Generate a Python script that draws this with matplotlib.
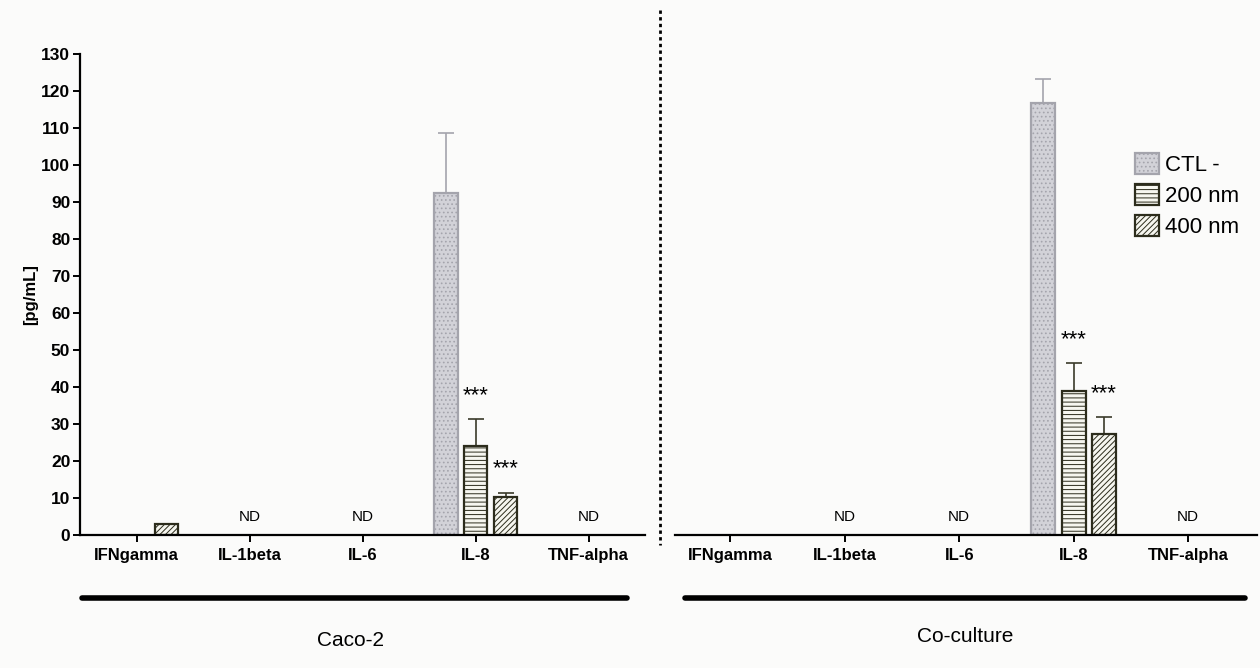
import numpy as np
import matplotlib
matplotlib.use("Agg")
import matplotlib.pyplot as plt
from matplotlib.lines import Line2D

plt.rcParams['font.family'] = ['Liberation Sans', 'DejaVu Sans']
plt.rcParams['hatch.linewidth'] = 0.7

# Data (pg/mL), NaN = no bar drawn
cytokines = ['IFNgamma', 'IL-1beta', 'IL-6', 'IL-8', 'TNF-alpha']
series = ['CTL -', '200 nm', '400 nm']

caco_ctl = [np.nan, np.nan, np.nan, 92.5, np.nan]
caco_200 = [np.nan, np.nan, np.nan, 24.0, np.nan]
caco_400 = [3.0, np.nan, np.nan, 10.3, np.nan]
caco_ctl_err = [0, 0, 0, 16.2, 0]
caco_200_err = [0, 0, 0, 7.3, 0]
caco_400_err = [0, 0, 0, 1.2, 0]

co_ctl = [np.nan, np.nan, np.nan, 116.7, np.nan]
co_200 = [np.nan, np.nan, np.nan, 39.0, np.nan]
co_400 = [np.nan, np.nan, np.nan, 27.2, np.nan]
co_ctl_err = [0, 0, 0, 6.6, 0]
co_200_err = [0, 0, 0, 7.5, 0]
co_400_err = [0, 0, 0, 4.7, 0]

caco_nd = ['IL-1beta', 'IL-6', 'TNF-alpha']
co_nd = ['IL-1beta', 'IL-6', 'TNF-alpha']

styles = [
    dict(facecolor='#d2d2d8', edgecolor='#a4a4ac', hatch='....', ecolor='#a4a4ac'),
    dict(facecolor='#f6f6ef', edgecolor='#2c2c1c', hatch='----', ecolor='#3a3a2a'),
    dict(facecolor='#f6f6ef', edgecolor='#2c2c1c', hatch='//////', ecolor='#3a3a2a'),
]

fig = plt.figure(figsize=(12.6, 6.68), dpi=100)
fig.patch.set_facecolor('#fbfbfa')

ax1 = fig.add_axes([0.0635, 0.199, 0.4485, 0.72])
ax2 = fig.add_axes([0.536, 0.199, 0.4615, 0.72])

x = np.arange(len(cytokines))
width = 0.21
offsets = [-0.265, 0.0, 0.265]


def draw(ax, vals, errs, nd, xlim):
    for i, (v, e, off, st) in enumerate(zip(vals, errs, offsets, styles)):
        v = np.array(v, dtype=float)
        e = np.array(e, dtype=float)
        m = ~np.isnan(v)
        ax.bar(x[m] + off, v[m], width, facecolor=st['facecolor'],
               edgecolor=st['edgecolor'], hatch=st['hatch'], linewidth=1.6,
               label=series[i], zorder=2)
        em = m & (e > 0)
        ax.errorbar(x[em] + off, v[em], yerr=[np.zeros(em.sum()), e[em]],
                    fmt='none', ecolor=st['ecolor'], elinewidth=1.2,
                    capsize=6, capthick=1.2, zorder=1)
    # significance stars for IL-8 treated bars
    i8 = cytokines.index('IL-8')
    for k in (1, 2):
        top = vals[k][i8] + errs[k][i8]
        ax.text(x[i8] + offsets[k], top + 3.5, '***', ha='center', va='bottom',
                fontsize=16)
    for name in nd:
        ax.text(cytokines.index(name), 5.0, 'ND', ha='center', va='center',
                fontsize=11)
    ax.set_xlim(*xlim)
    ax.set_ylim(0, 130)
    ax.set_xticks(x)
    ax.set_xticklabels(cytokines, fontsize=12, fontweight='bold')
    ax.spines['top'].set_visible(False)
    ax.spines['right'].set_visible(False)
    ax.spines['bottom'].set_linewidth(1.6)
    ax.spines['left'].set_linewidth(1.6)
    ax.tick_params(axis='x', length=5, width=1.4, pad=4)
    ax.patch.set_alpha(0)


draw(ax1, [caco_ctl, caco_200, caco_400],
     [caco_ctl_err, caco_200_err, caco_400_err], caco_nd, (-0.5, 4.5))
draw(ax2, [co_ctl, co_200, co_400],
     [co_ctl_err, co_200_err, co_400_err], co_nd, (-0.48, 4.6))

ax1.set_yticks(np.arange(0, 131, 10))
ax1.tick_params(axis='y', length=5, width=1.4, labelsize=12.5, pad=2)
for lab in ax1.get_yticklabels():
    lab.set_fontweight('bold')
ax1.set_ylabel('[pg/mL]', fontsize=12, fontweight='bold', labelpad=2)

ax2.spines['left'].set_visible(False)
ax2.set_yticks([])

leg = ax2.legend(loc='upper left', bbox_to_anchor=(1135 / 1260, 1 - 153 / 668),
                 bbox_transform=fig.transFigure, frameon=False,
                 fontsize=16, handlelength=1.1, handleheight=1.1,
                 handletextpad=0.25, labelspacing=0.35, borderaxespad=0,
                 borderpad=0)

# dotted separator and group bars
fig.add_artist(Line2D([660 / 1260, 660 / 1260], [1 - 10 / 668, 1 - 545 / 668],
                      color='black', linestyle=(0, (1.2, 1.2)), linewidth=2))
fig.add_artist(Line2D([82 / 1260, 627 / 1260], [1 - 598 / 668] * 2,
                      color='black', linewidth=4, solid_capstyle='round'))
fig.add_artist(Line2D([685 / 1260, 1245 / 1260], [1 - 598 / 668] * 2,
                      color='black', linewidth=4, solid_capstyle='round'))
fig.text(350 / 1260, 1 - 640 / 668, 'Caco-2', ha='center', va='center', fontsize=15)
fig.text(965 / 1260, 1 - 636 / 668, 'Co-culture', ha='center', va='center', fontsize=15)

fig.savefig('out.png', dpi=100, facecolor=fig.get_facecolor())
